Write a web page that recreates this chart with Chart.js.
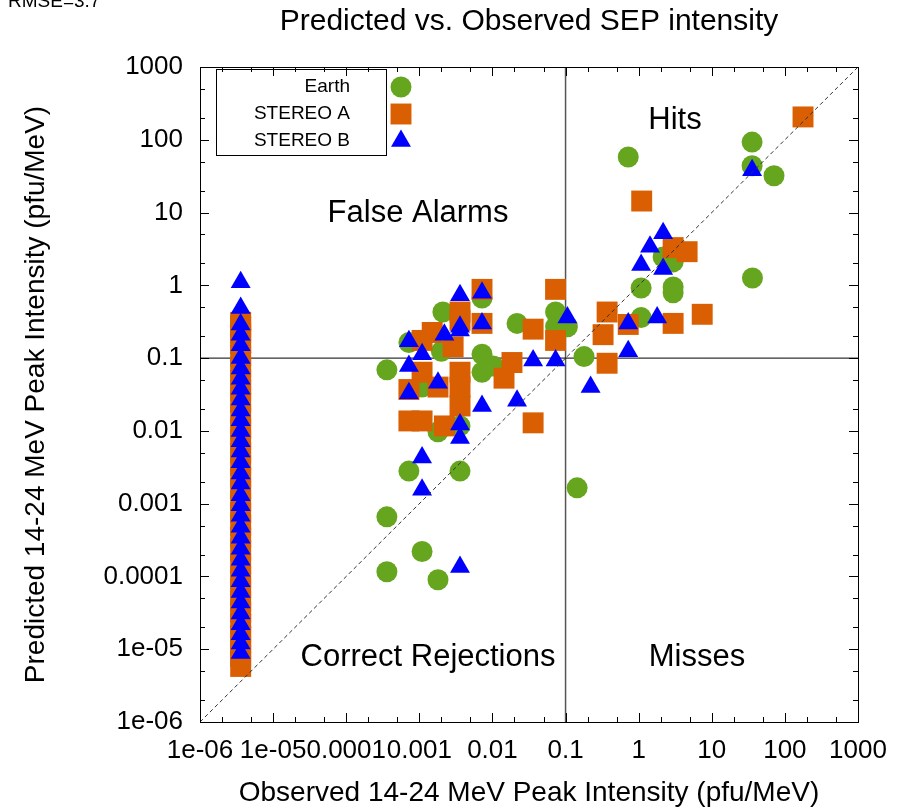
<!DOCTYPE html>
<html>
<head>
<meta charset="utf-8">
<script src="https://cdn.jsdelivr.net/npm/chart.js@4.4.1/dist/chart.umd.min.js"></script>
<style>
  html, body { margin: 0; padding: 0; background: #fff; }
  #wrap { width: 900px; height: 808px; position: relative; }
</style>
</head>
<body>
<div id="wrap"><canvas id="c"></canvas></div>
<script>
// axis decades and their labels (same on both axes)
const decades = [1e-6, 1e-5, 1e-4, 1e-3, 1e-2, 0.1, 1, 10, 100, 1000];
const tickLabels = ['1e-06', '1e-05', '0.0001', '0.001', '0.01', '0.1', '1', '10', '100', '1000'];
const minorSteps = [2, 5];

// [observed, predicted] in pfu/MeV
const earth = [
  [35.6, 93], [35.6, 44], [71, 32], [0.72, 58], [36, 1.26],
  [2.16, 2.45], [2.96, 2.1], [1.08, 0.92], [2.96, 0.95], [2.96, 0.79],
  [1.08, 0.36], [0.106, 0.27], [0.179, 0.105], [0.144, 0.00165],
  [0.073, 0.43], [0.073, 0.27],
  [0.0021, 0.43], [0.0072, 0.67], [7.2e-4, 0.164], [3.6e-4, 0.069],
  [0.0217, 0.30], [0.0072, 0.113], [0.0072, 0.064], [0.0102, 0.078],
  [0.002, 0.124], [0.00109, 0.040], [0.0018, 0.0097], [0.0036, 0.0117],
  [7.2e-4, 0.0028], [0.0036, 0.0028], [3.6e-4, 6.6e-4], [0.00109, 2.2e-4],
  [3.6e-4, 1.16e-4], [0.0018, 9.0e-5]
];
const stereoA = [
  [177, 206], [1.1, 14.4], [2.96, 3.3], [4.6, 2.9], [0.37, 0.43], [0.326, 0.21],
  [0.72, 0.29], [2.96, 0.30], [7.4, 0.40], [0.37, 0.085],
  [0.073, 0.88], [0.073, 0.175], [0.036, 0.25], [0.0185, 0.087], [0.0144, 0.053],
  [0.036, 0.0129], [0.0072, 0.88], [0.0072, 0.30], [0.0036, 0.43], [0.0036, 0.33],
  [0.0015, 0.225], [0.00109, 0.175], [0.0029, 0.143], [0.0036, 0.064], [0.0036, 0.04],
  [0.0036, 0.022], [0.00109, 0.064], [0.0018, 0.040], [7.2e-4, 0.037],
  [7.2e-4, 0.0137], [0.00109, 0.0137], [0.0022, 0.0117]
];
const stereoB = [
  [35.6, 38], [2.16, 5.2], [1.43, 3.4], [1.08, 1.9], [2.16, 1.68],
  [0.106, 0.36], [0.72, 0.30], [1.79, 0.36], [0.72, 0.124], [0.22, 0.04],
  [0.036, 0.093], [0.073, 0.093], [0.0217, 0.026], [0.0072, 0.022],
  [0.0072, 0.79], [0.0072, 0.30], [0.0036, 0.73], [0.0036, 0.27], [0.0036, 0.24],
  [0.0022, 0.21], [7.2e-4, 0.17], [0.00109, 0.113], [7.2e-4, 0.078], [0.0018, 0.046],
  [7.2e-4, 0.033], [0.0036, 0.0122], [0.0036, 0.0080], [0.00109, 0.0043],
  [0.00109, 0.00155], [0.0036, 1.35e-4]
];

// events with no observed intensity, all plotted at the floor value
const floorX = 3.6e-6;
const earthFloorY = [0.36, 0.25, 0.18, 0.12, 0.08, 0.05, 0.033, 0.02, 0.012, 0.008, 0.005,
  0.003, 0.002, 0.0012, 7e-4, 4.5e-4, 3e-4, 1.8e-4, 1.1e-4, 7e-5, 4.5e-5, 3e-5, 2e-5, 1.3e-5, 9e-6];
const stereoAFloorY = [0.31, 0.27, 0.22, 0.16, 0.11, 0.075, 0.05, 0.036, 0.025, 0.017, 0.011,
  0.0075, 0.005, 0.0034, 0.0023, 0.0016, 0.0011, 7.5e-4, 5e-4, 3.4e-4, 2.3e-4, 1.5e-4, 1e-4,
  7e-5, 4.6e-5, 3.2e-5, 2.2e-5, 1.5e-5, 1.1e-5, 8e-6, 5.8e-6];
const stereoBFloorY = [1.1, 0.49, 0.29, 0.21, 0.15, 0.1, 0.072, 0.052, 0.038, 0.027, 0.019,
  0.014, 0.01, 0.0072, 0.0052, 0.0037, 0.0026, 0.0019, 0.0013, 9.5e-4, 6.8e-4, 4.8e-4, 3.4e-4,
  2.4e-4, 1.7e-4, 1.2e-4, 8.6e-5, 6.1e-5, 4.4e-5, 3.1e-5, 2.2e-5, 1.6e-5, 1.2e-5, 8.9e-6];

const threshold = 0.1;
const seriesNames = ['Earth', 'STEREO A', 'STEREO B'];
const GREEN = '#66a61e', ORANGE = '#d95f02', BLUE = '#0000ff';
const FONT = '"Liberation Sans", Arial, Helvetica, sans-serif';

const toPts = (pairs, floorY) =>
  pairs.map(p => ({ x: p[0], y: p[1] })).concat(floorY.map(v => ({ x: floorX, y: v })));

const decor = {
  id: 'decor',
  afterDatasetsDraw(chart) {
    const { ctx, chartArea: a, scales: { x, y } } = chart;
    ctx.save();
    ctx.strokeStyle = '#000';
    ctx.lineWidth = 1;
    ctx.beginPath();
    decades.forEach(d => {
      [1].concat(minorSteps).forEach(m => {
        const v = d * m;
        if (v > 1000) return;
        const len = m === 1 ? 9 : 5;
        const px = Math.round(x.getPixelForValue(v)) + 0.5;
        ctx.moveTo(px, a.bottom); ctx.lineTo(px, a.bottom - len);
        ctx.moveTo(px, a.top); ctx.lineTo(px, a.top + len);
        const py = Math.round(y.getPixelForValue(v)) + 0.5;
        ctx.moveTo(a.left, py); ctx.lineTo(a.left + len, py);
        ctx.moveTo(a.right, py); ctx.lineTo(a.right - len, py);
      });
    });
    ctx.stroke();
    ctx.strokeRect(Math.round(a.left) + 0.5, Math.round(a.top) + 0.5,
      Math.round(a.width), Math.round(a.height));

    // quadrant labels
    ctx.fillStyle = '#000';
    ctx.textAlign = 'center';
    ctx.textBaseline = 'middle';
    ctx.font = '31px ' + FONT;
    ctx.fillText('Hits', 675, 120);
    ctx.fillText('False Alarms', 418, 213);
    ctx.fillText('Correct Rejections', 428, 657);
    ctx.fillText('Misses', 697, 657);

    // key
    const kx = a.left + 16, ky = a.top + 2;
    ctx.strokeRect(kx + 0.5, ky + 0.5, 170, 86);
    ctx.font = '19px ' + FONT;
    ctx.textAlign = 'right';
    const styles = [['circle', GREEN, 10.5], ['rect', ORANGE, 14.8], ['triangle', BLUE, 11.5]];
    seriesNames.forEach((name, i) => {
      const ly = ky + 18 + i * 27;
      ctx.fillStyle = '#000';
      ctx.fillText(name, kx + 134, ly);
      ctx.fillStyle = styles[i][1];
      Chart.helpers.drawPoint(ctx, { pointStyle: styles[i][0], radius: styles[i][2], rotation: 0, borderWidth: 0 }, kx + 185, ly);
    });

    // titles
    ctx.fillStyle = '#000';
    ctx.textAlign = 'center';
    ctx.font = '30px ' + FONT;
    ctx.fillText('Predicted vs. Observed SEP intensity', 529, 22);
    ctx.font = '28px ' + FONT;
    ctx.fillText('Observed 14-24 MeV Peak Intensity (pfu/MeV)', 529, 793);
    ctx.save();
    ctx.translate(36, (a.top + a.bottom) / 2);
    ctx.rotate(-Math.PI / 2);
    ctx.fillText('Predicted 14-24 MeV Peak Intensity (pfu/MeV)', 0, 0);
    ctx.restore();
    ctx.textAlign = 'left';
    ctx.textBaseline = 'alphabetic';
    ctx.font = '19px ' + FONT;
    ctx.fillText('RMSE=3.7', 8, 7);
    ctx.restore();
  }
};

const axis = (pos, fit) => ({
  type: 'logarithmic',
  position: pos,
  min: 1e-6,
  max: 1000,
  grid: { display: false, drawTicks: false },
  border: { display: false },
  ticks: {
    autoSkip: false, maxRotation: 0, minRotation: 0,
    padding: pos === 'left' ? 17 : 13,
    color: '#000',
    font: { family: FONT, size: 26 },
    callback: (v, i) => tickLabels[i]
  },
  afterBuildTicks: s => { s.ticks = decades.map(v => ({ value: v })); },
  afterFit: fit
});

new Chart(document.getElementById('c').getContext('2d'), {
  type: 'scatter',
  data: {
    datasets: [
      {
        label: 'y=x',
        data: [{ x: 1e-6, y: 1e-6 }, { x: 1000, y: 1000 }],
        showLine: true, pointRadius: 0, borderColor: '#333', borderWidth: 1, borderDash: [4, 3]
      },
      {
        label: seriesNames[2], data: toPts(stereoB, stereoBFloorY),
        pointStyle: 'triangle', pointRadius: 11.5, backgroundColor: BLUE, borderWidth: 0
      },
      {
        label: seriesNames[1], data: toPts(stereoA, stereoAFloorY),
        pointStyle: 'rect', pointRadius: 14.8, backgroundColor: ORANGE, borderWidth: 0
      },
      {
        label: seriesNames[0], data: toPts(earth, earthFloorY),
        pointStyle: 'circle', pointRadius: 10.5, backgroundColor: GREEN, borderWidth: 0
      },
      {
        label: 'pred threshold',
        data: [{ x: 1e-6, y: threshold }, { x: 1000, y: threshold }],
        showLine: true, pointRadius: 0, borderColor: '#000', borderWidth: 1
      },
      {
        label: 'obs threshold',
        data: [{ x: threshold, y: 1e-6 }, { x: threshold, y: 1000 }],
        showLine: true, pointRadius: 0, borderColor: '#555', borderWidth: 1.5
      }
    ]
  },
  options: {
    responsive: true,
    maintainAspectRatio: false,
    animation: false,
    events: [],
    layout: { padding: { top: 67, right: 42, bottom: 0, left: 0 } },
    plugins: { legend: { display: false }, tooltip: { enabled: false } },
    scales: {
      x: axis('bottom', s => { s.height = 86; }),
      y: axis('left', s => { s.width = 200; })
    }
  },
  plugins: [decor]
});
</script>
</body>
</html>
